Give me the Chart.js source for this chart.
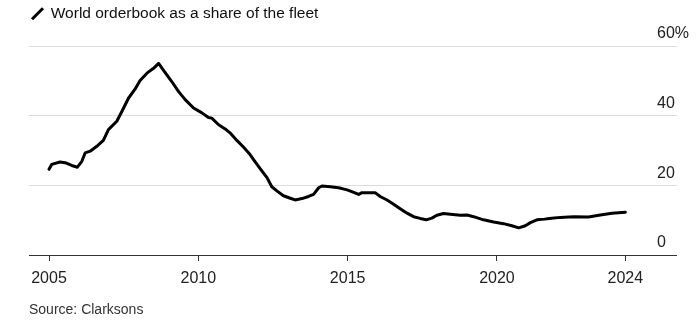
<!DOCTYPE html>
<html>
<head>
<meta charset="utf-8">
<script src="https://cdn.jsdelivr.net/npm/chart.js@4/dist/chart.umd.min.js"></script>
<style>
  html, body { margin: 0; padding: 0; background: #fff; }
  #wrap { width: 699px; height: 324px; }
</style>
</head>
<body>
<div id="wrap"><canvas id="c" width="699" height="324"></canvas></div>
<script>
// ---- data ----
const seriesName = 'World orderbook as a share of the fleet';
const sourceNote = 'Source: Clarksons';
const years = [
  2005.00, 2005.09, 2005.37, 2005.54, 2005.76, 2005.95, 2006.10, 2006.21, 2006.38, 2006.60,
  2006.82, 2006.99, 2007.27, 2007.44, 2007.66, 2007.88, 2008.05, 2008.28, 2008.50, 2008.67,
  2008.83, 2009.11, 2009.34, 2009.56, 2009.84, 2010.12, 2010.34, 2010.45, 2010.68, 2010.90,
  2011.07, 2011.29, 2011.51, 2011.71, 2011.85, 2012.07, 2012.30, 2012.46, 2012.63, 2012.85,
  2013.08, 2013.24, 2013.47, 2013.69, 2013.86, 2014.03, 2014.14, 2014.42, 2014.70, 2014.98,
  2015.14, 2015.37, 2015.48, 2015.70, 2015.92, 2016.09, 2016.32, 2016.54, 2016.76, 2016.99,
  2017.21, 2017.43, 2017.63, 2017.82, 2017.99, 2018.21, 2018.44, 2018.77, 2019.00, 2019.22,
  2019.55, 2019.89, 2020.22, 2020.50, 2020.73, 2020.95, 2021.12, 2021.34, 2021.60, 2021.75,
  2022.12, 2022.57, 2023.07, 2023.46, 2023.85, 2024.30
];
const orderbookShare = [
  24.6, 26.0, 26.7, 26.5, 25.7, 25.2, 26.9, 29.3, 29.8, 31.2,
  32.9, 36.0, 38.4, 41.2, 45.0, 47.6, 50.1, 52.2, 53.6, 55.0,
  53.1, 49.8, 46.9, 44.6, 42.2, 40.8, 39.5, 39.3, 37.4, 36.2,
  35.0, 32.9, 31.0, 29.1, 27.4, 24.8, 22.2, 19.6, 18.4, 17.0,
  16.3, 15.8, 16.2, 16.8, 17.4, 19.3, 19.8, 19.6, 19.3, 18.7,
  18.2, 17.4, 17.9, 17.9, 17.9, 16.8, 15.8, 14.6, 13.3, 12.0,
  11.0, 10.5, 10.1, 10.6, 11.4, 11.9, 11.7, 11.4, 11.5, 11.0,
  10.1, 9.5, 9.0, 8.4, 7.8, 8.4, 9.3, 10.1, 10.3, 10.5,
  10.8, 11.0, 10.9, 11.5, 12.0, 12.3
];
const xTickValues = [2005, 2010, 2015, 2020, 2024.30];
const xTickLabels = ['2005', '2010', '2015', '2020', '2024'];
const yTickValues = [0, 20, 40, 60];
const yTickLabels = ['0', '20', '40', '60%'];

// ---- chart ----
Chart.defaults.font.family = '"Liberation Sans", Arial, Helvetica, sans-serif';
Chart.defaults.color = '#222';

const points = years.map((x, i) => ({ x: x, y: orderbookShare[i] }));

// give the legend (used as the chart's headline) a fixed block height
const legendSpacer = {
  id: 'legendSpacer',
  beforeLayout(chart) {
    const lg = chart.legend;
    if (lg && !lg._spaced) {
      const fit = lg.fit;
      lg.fit = function () { fit.call(this); this.height = Math.max(this.height, 43); };
      lg._spaced = true;
    }
  }
};

new Chart(document.getElementById('c'), {
  type: 'line',
  data: {
    datasets: [{
      label: seriesName,
      data: points,
      borderColor: '#000',
      backgroundColor: '#000',
      borderWidth: 3,
      pointRadius: 0,
      pointHoverRadius: 0,
      pointStyle: 'line',
      pointRotation: -45,
      pointBorderWidth: 3,
      pointBorderColor: '#000',
      tension: 0,
      borderCapStyle: 'round',
      borderJoinStyle: 'round'
    }]
  },
  plugins: [legendSpacer],
  options: {
    responsive: false,
    animation: false,
    devicePixelRatio: 1,
    layout: { padding: { top: 3, left: 29, right: 0, bottom: 0 } },
    plugins: {
      tooltip: { enabled: false },
      legend: {
        display: true,
        position: 'top',
        align: 'start',
        labels: {
          usePointStyle: true,
          boxWidth: 11,
          boxHeight: 11,
          padding: 3,
          color: '#111',
          font: { size: 15.5 }
        }
      },
      subtitle: {
        display: true,
        text: sourceNote,
        position: 'bottom',
        align: 'start',
        color: '#333',
        font: { size: 14, weight: 'normal' },
        padding: { top: 6, bottom: 5 }
      }
    },
    scales: {
      x: {
        type: 'linear',
        min: 2004.33,
        max: 2025.36,
        afterBuildTicks: (scale) => { scale.ticks = xTickValues.map(v => ({ value: v })); },
        ticks: {
          autoSkip: false,
          maxRotation: 0,
          padding: 8,
          color: '#222',
          font: { size: 16 },
          callback: (v, i) => xTickLabels[i]
        },
        grid: {
          drawOnChartArea: false,
          drawTicks: true,
          tickLength: 6,
          tickColor: '#333',
          tickWidth: 1
        },
        border: { display: false }
      },
      y: {
        type: 'linear',
        position: 'right',
        min: 0,
        max: 60,
        afterBuildTicks: (scale) => { scale.ticks = yTickValues.map(v => ({ value: v })); },
        afterFit: (scale) => { scale.width = 42; },
        ticks: {
          padding: -20,
          labelOffset: -12,
          color: '#222',
          font: { size: 16 },
          callback: (v, i) => yTickLabels[i]
        },
        grid: {
          drawTicks: true,
          tickLength: 20,
          color: (ctx) => (ctx.tick && ctx.tick.value === 0) ? '#333' : '#dcdcdc',
          lineWidth: 1
        },
        border: { display: false }
      }
    }
  }
});
</script>
</body>
</html>
